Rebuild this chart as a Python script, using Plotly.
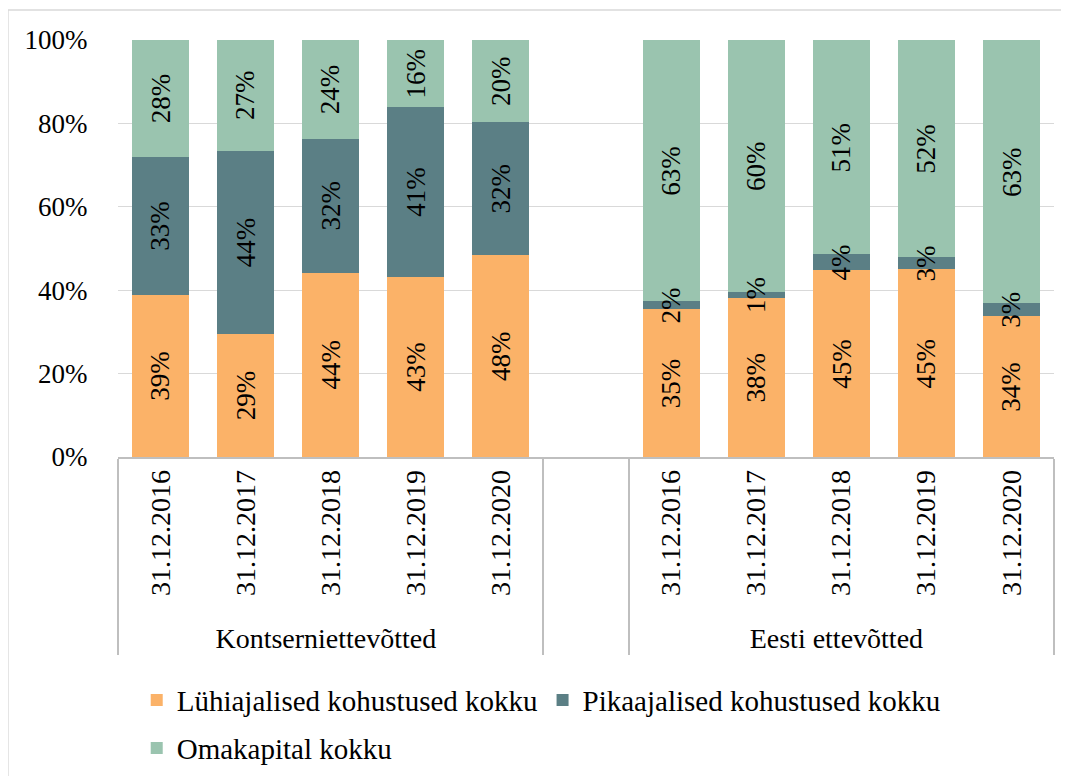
import plotly.graph_objects as go

groups = ["Kontserniettevõtted"] * 5 + [" "] + ["Eesti ettevõtted"] * 5
dates = ["31.12.2016", "31.12.2017", "31.12.2018", "31.12.2019", "31.12.2020", " ",
         "31.12.2016", "31.12.2017", "31.12.2018", "31.12.2019", "31.12.2020"]

short_term = [38.8, 29.4, 44.2, 43.2, 48.4, None, 35.4, 38.2, 44.8, 45.0, 33.9]
long_term = [33.1, 44.0, 32.1, 40.7, 31.9, None, 1.9, 1.4, 3.8, 3.0, 3.0]
equity = [28.1, 26.6, 23.7, 16.1, 19.7, None, 62.7, 60.4, 51.4, 52.0, 63.1]

series_names = ["Lühiajalised kohustused kokku", "Pikaajalised kohustused kokku", "Omakapital kokku"]
colors = ["#FBB268", "#5B7F85", "#9AC4AF"]
legend_ids = ["legend", "legend", "legend2"]

FONT = "Liberation Serif, Times New Roman, serif"

fig = go.Figure()
series = [short_term, long_term, equity]
for name, vals, col, lg in zip(series_names, series, colors, legend_ids):
    fig.add_trace(go.Bar(
        x=[groups, dates], y=vals, name=name, legend=lg,
        marker=dict(color=col, line=dict(width=0)),
        hoverinfo="skip",
    ))

# data labels centred on each segment, drawn above all bars
base = [0.0] * len(dates)
for vals in series:
    for i, v in enumerate(vals):
        if v is None:
            continue
        fig.add_annotation(x=i, y=base[i] + v / 2, xref="x", yref="y",
                           text=f"{v:.0f}%", textangle=-90, showarrow=False,
                           font=dict(family=FONT, size=27, color="black"))
        base[i] += v

legend_style = dict(orientation="h", xanchor="left", yanchor="middle",
                    font=dict(family=FONT, size=29, color="black"),
                    itemwidth=30, tracegroupgap=0, traceorder="normal",
                    bgcolor="rgba(0,0,0,0)")

fig.update_layout(
    barmode="stack", bargap=0.33,
    width=1061, height=768,
    margin=dict(l=110, r=15, t=32, b=319, autoexpand=False),
    paper_bgcolor="white", plot_bgcolor="white",
    font=dict(family=FONT, size=27, color="black"),
    showlegend=True,
    legend=dict(x=0.02, y=-0.583, **legend_style),
    legend2=dict(x=0.02, y=-0.698, **legend_style),
)
fig.update_yaxes(range=[0, 100], dtick=20, ticksuffix="%",
                 showgrid=True, gridcolor="#D9D9D9", gridwidth=1,
                 zeroline=False, showline=False, automargin=False,
                 ticks="outside", ticklen=24, tickcolor="rgba(0,0,0,0)",
                 tickfont=dict(family=FONT, size=27, color="black"))
fig.update_xaxes(type="multicategory", tickangle=-90, automargin=False,
                 showline=True, linecolor="#BFBFBF", linewidth=1.5,
                 showdividers=True, dividercolor="#BFBFBF", dividerwidth=1.5,
                 tickfont=dict(family=FONT, size=28, color="black"))

fig.add_shape(type="rect", xref="paper", yref="paper",
              x0=-0.1176, x1=1.03, y0=-0.8, y1=1.072,
              line=dict(color="#D9D9D9", width=1.5), fillcolor="rgba(0,0,0,0)",
              layer="below")

fig.write_html("out.html")
